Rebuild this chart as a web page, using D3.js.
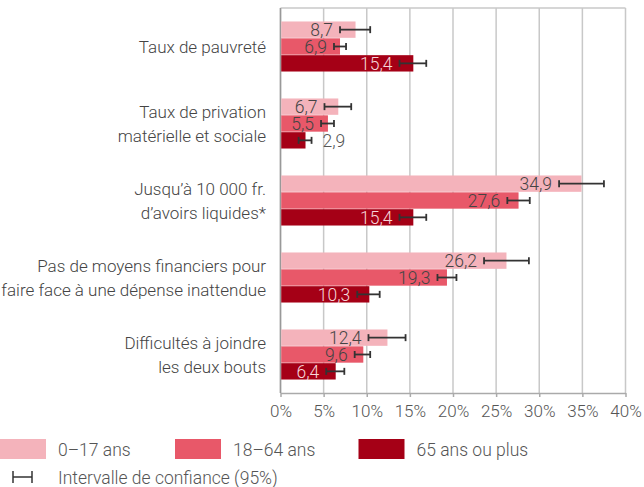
<!DOCTYPE html>
<html>
<head>
<meta charset="utf-8">
<script src="https://cdn.jsdelivr.net/npm/d3@7"></script>
<style>
  body { margin: 0; background: #fff; }
  svg { display: block; font-family: Roboto, "Noto Sans", sans-serif; font-weight: 300; }
  .grid line { stroke: #c8c8c8; stroke-width: 1.5; }
  .cat-label { fill: #444; font-size: 17px; }
  .val-label { font-size: 17.5px; }
  .x-axis text { fill: #555; font-size: 17px; font-family: Roboto, sans-serif; font-weight: 300; }
  .x-axis path, .x-axis line { stroke: #aaa; stroke-width: 1.5; }
  .legend text { fill: #555; font-size: 17.5px; }
  .err { stroke: #333; stroke-width: 1.8; }
</style>
</head>
<body>
<div id="chart"></div>
<script>
const categories = [
    "Taux de pauvreté",
    "Taux de privation\nmatérielle et sociale",
    "Jusqu’à 10 000 fr.\nd’avoirs liquides*",
    "Pas de moyens financiers pour\nfaire face à une dépense inattendue",
    "Difficultés à joindre\nles deux bouts"
];
const seriesNames = ["0–17 ans", "18–64 ans", "65 ans ou plus"];

const values0_17  = [8.7, 6.7, 34.9, 26.2, 12.4];
const values18_64 = [6.9, 5.5, 27.6, 19.3, 9.6];
const values65    = [15.4, 2.9, 15.4, 10.3, 6.4];

const ciLow0_17   = [6.9, 5.1, 32.3, 23.6, 10.2];
const ciHigh0_17  = [10.4, 8.2, 37.5, 28.8, 14.5];
const ciLow18_64  = [6.2, 4.7, 26.3, 18.2, 8.6];
const ciHigh18_64 = [7.6, 6.2, 28.9, 20.4, 10.4];
const ciLow65     = [13.8, 2.1, 13.8, 8.9, 5.3];
const ciHigh65    = [16.9, 3.6, 16.9, 11.5, 7.4];

const xTicks = [0, 5, 10, 15, 20, 25, 30, 35, 40];

const colors = ["#f4b3bb", "#e85869", "#a50016"];
const labelColors = ["#444", "#444", "#f6d6da"];

const W = 644, H = 487;
const plotTop = 8, plotBottom = 393, plotLeft = 280.5, plotRight = 625.5;

const allValues = [values0_17, values18_64, values65];
const allLow = [ciLow0_17, ciLow18_64, ciLow65];
const allHigh = [ciHigh0_17, ciHigh18_64, ciHigh65];

const rows = categories.map((c, i) => ({
    cat: c,
    bars: seriesNames.map((s, j) => ({
        s: j, v: allValues[j][i], lo: allLow[j][i], hi: allHigh[j][i]
    }))
}));

const locale = d3.formatLocale({decimal: ",", thousands: " ", grouping: [3], currency: ["", ""]});
const fmt = locale.format(".1f");

const svg = d3.select("#chart").append("svg").attr("width", W).attr("height", H);

const x = d3.scaleLinear().domain([0, 40]).range([plotLeft, plotRight]);
const y = d3.scaleBand().domain(categories).range([plotTop, plotBottom]).paddingInner(0.35).paddingOuter(0.175);
const ySub = d3.scaleBand().domain(d3.range(3)).range([0, y.bandwidth()]).paddingInner(0.03);

// grille
const grid = svg.append("g").attr("class", "grid");
grid.selectAll("line.v").data(xTicks).enter().append("line").attr("class", "v")
    .attr("x1", d => x(d)).attr("x2", d => x(d)).attr("y1", plotTop).attr("y2", plotBottom);
grid.append("line").attr("x1", x(0)).attr("x2", x(40)).attr("y1", plotTop).attr("y2", plotTop);

// axe
svg.append("g").attr("class", "x-axis").attr("transform", `translate(0,${plotBottom})`)
    .call(d3.axisBottom(x).tickValues(xTicks).tickSize(4).tickSizeOuter(0).tickPadding(8).tickFormat(d => d + "%"));
svg.append("line").attr("x1", x(0)).attr("x2", x(0)).attr("y1", plotTop).attr("y2", plotBottom)
    .attr("stroke", "#999").attr("stroke-width", 1.5);

// barres
const groups = svg.selectAll("g.row").data(rows).enter().append("g").attr("class", "row")
    .attr("transform", d => `translate(0,${y(d.cat)})`);

groups.selectAll("rect").data(d => d.bars).enter().append("rect")
    .attr("x", x(0) + 0.75).attr("y", d => ySub(d.s)).attr("height", ySub.bandwidth())
    .attr("width", d => x(d.v) - x(0) - 0.75).attr("fill", d => colors[d.s]);

// intervalles
const err = groups.selectAll("g.err").data(d => d.bars).enter().append("g").attr("class", "err")
    .attr("transform", d => `translate(0,${ySub(d.s) + ySub.bandwidth() / 2})`);
err.append("line").attr("x1", d => x(d.lo)).attr("x2", d => x(d.hi)).attr("y1", 0).attr("y2", 0);
err.append("line").attr("x1", d => x(d.lo)).attr("x2", d => x(d.lo)).attr("y1", -3.5).attr("y2", 3.5);
err.append("line").attr("x1", d => x(d.hi)).attr("x2", d => x(d.hi)).attr("y1", -3.5).attr("y2", 3.5);

// etiquettes valeurs
groups.selectAll("text.val-label").data(d => d.bars).enter().append("text").attr("class", "val-label")
    .attr("y", d => ySub(d.s) + ySub.bandwidth() / 2).attr("dy", "0.36em")
    .text(d => fmt(d.v))
    .each(function(d) {
        const t = d3.select(this);
        const w = this.getComputedTextLength();
        const xe = x(d.lo) - 7;
        if (xe - w < x(0) + 2) {
            t.attr("x", x(d.hi) + 11).attr("text-anchor", "start").attr("fill", "#555");
        } else {
            t.attr("x", xe).attr("text-anchor", "end").attr("fill", labelColors[d.s]);
        }
    });

// categories
const cl = svg.selectAll("text.cat-label").data(categories).enter().append("text").attr("class", "cat-label")
    .attr("text-anchor", "end")
    .attr("transform", d => `translate(266,${y(d) + y.bandwidth() / 2})`);
cl.each(function(d) {
    const lines = d.split("\n");
    const t = d3.select(this);
    lines.forEach((l, i) => {
        t.append("tspan").attr("x", 0).attr("y", (i - (lines.length - 1) / 2) * 24).attr("dy", "0.36em").text(l);
    });
});

// legende
const legend = svg.append("g").attr("class", "legend");
const legX = [0, 175, 358.5];
seriesNames.forEach((s, i) => {
    legend.append("rect").attr("x", legX[i]).attr("y", 439).attr("width", 46).attr("height", 20).attr("fill", colors[i]);
    legend.append("text").attr("x", legX[i] + 58).attr("y", 450).attr("dy", "0.36em").text(s);
});
legend.append("line").attr("x1", 13).attr("x2", 32).attr("y1", 477).attr("y2", 477).attr("stroke", "#333").attr("stroke-width", 1.5);
legend.append("line").attr("x1", 13).attr("x2", 13).attr("y1", 471).attr("y2", 483).attr("stroke", "#333").attr("stroke-width", 1.5);
legend.append("line").attr("x1", 32).attr("x2", 32).attr("y1", 471).attr("y2", 483).attr("stroke", "#333").attr("stroke-width", 1.5);
legend.append("text").attr("x", 58).attr("y", 478).attr("dy", "0.36em").text("Intervalle de confiance (95%)");
</script>
</body>
</html>
